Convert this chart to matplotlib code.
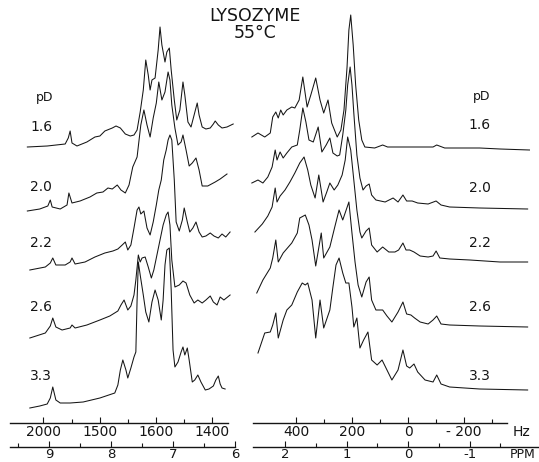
import matplotlib.pyplot as plt

W, H = 539, 462
MHZ = 220  # spectrometer frequency, Hz per ppm

pd_labels = ["1.6", "2.0", "2.2", "2.6", "3.3"]
# vertical stacking of the five spectra (intensity units)
stack_offset = [0, -59, -112, -177, -240]

# aromatic / NH region, (ppm, intensity)
aro_16 = [(9.35, 3), (9.03, 4), (8.74, 6), (8.69, 12), (8.66, 19), (8.63, 7), (8.55, 4), (8.39, 8),
          (8.26, 13), (8.18, 14), (8.10, 19), (7.98, 22), (7.92, 24), (7.85, 22), (7.77, 16),
          (7.69, 14), (7.63, 15), (7.58, 20), (7.53, 38), (7.48, 60), (7.44, 90), (7.40, 75),
          (7.37, 60), (7.34, 70), (7.29, 72), (7.24, 100), (7.21, 123), (7.18, 105), (7.13, 88),
          (7.10, 98), (7.06, 102), (7.03, 80), (6.98, 50), (6.94, 30), (6.89, 40), (6.84, 68),
          (6.81, 55), (6.76, 28), (6.71, 23), (6.66, 35), (6.61, 47), (6.58, 35), (6.53, 23),
          (6.47, 21), (6.40, 22), (6.35, 26), (6.32, 29), (6.27, 25), (6.21, 22), (6.13, 23),
          (6.03, 26)]
aro_20 = [(9.35, -2), (9.15, 0), (9.02, 3), (8.98, 9), (8.95, 2), (8.82, 0), (8.71, 4), (8.68, 16),
          (8.63, 6), (8.50, 8), (8.34, 12), (8.23, 16), (8.13, 17), (8.05, 21), (7.98, 20),
          (7.90, 24), (7.84, 19), (7.77, 16), (7.71, 24), (7.65, 42), (7.58, 52), (7.52, 84),
          (7.47, 99), (7.42, 84), (7.37, 72), (7.32, 91), (7.27, 106), (7.23, 127), (7.18, 109),
          (7.13, 117), (7.08, 137), (7.05, 129), (7.02, 104), (6.97, 81), (6.92, 64), (6.87, 67),
          (6.84, 74), (6.79, 59), (6.74, 43), (6.69, 46), (6.63, 51), (6.58, 39), (6.53, 23),
          (6.44, 23), (6.32, 27), (6.24, 30), (6.13, 35)]
aro_22 = [(9.31, -8), (9.06, -5), (8.98, -1), (8.94, 4), (8.89, -3), (8.74, -3), (8.66, 0), (8.63, 4),
          (8.58, -2), (8.42, 0), (8.26, 5), (8.10, 9), (7.97, 11), (7.89, 13), (7.82, 17),
          (7.77, 20), (7.73, 12), (7.68, 17), (7.63, 34), (7.58, 52), (7.55, 55), (7.52, 48),
          (7.47, 51), (7.42, 34), (7.37, 27), (7.32, 40), (7.27, 57), (7.23, 72), (7.19, 82),
          (7.15, 102), (7.11, 112), (7.08, 122), (7.05, 127), (7.02, 122), (6.98, 82), (6.95, 40),
          (6.90, 31), (6.85, 42), (6.82, 54), (6.77, 40), (6.73, 30), (6.68, 34), (6.63, 40),
          (6.58, 30), (6.53, 25), (6.47, 26), (6.40, 29), (6.34, 26), (6.27, 24), (6.21, 28),
          (6.15, 25), (6.08, 30)]
aro_26 = [(9.31, -11), (9.06, -6), (8.98, 1), (8.94, 9), (8.89, 0), (8.79, -3), (8.66, -1), (8.63, 2),
          (8.58, -1), (8.39, 2), (8.18, 7), (8.02, 11), (7.89, 16), (7.84, 22), (7.79, 27),
          (7.73, 17), (7.68, 21), (7.63, 32), (7.60, 47), (7.56, 72), (7.53, 65), (7.50, 69),
          (7.45, 70), (7.40, 60), (7.35, 49), (7.31, 57), (7.26, 72), (7.21, 87), (7.16, 102),
          (7.11, 112), (7.08, 115), (7.05, 102), (7.02, 67), (6.97, 40), (6.90, 42), (6.84, 46),
          (6.79, 44), (6.73, 32), (6.66, 24), (6.60, 27), (6.53, 24), (6.47, 27), (6.40, 31),
          (6.35, 25), (6.29, 22), (6.24, 30), (6.18, 27), (6.08, 32)]
aro_33 = [(9.31, -18), (9.15, -16), (9.03, -14), (8.98, -8), (8.94, 3), (8.89, -10), (8.82, -13),
          (8.66, -13), (8.45, -12), (8.18, -8), (7.94, -3), (7.89, 5), (7.85, 20), (7.81, 30),
          (7.76, 20), (7.73, 12), (7.68, 22), (7.63, 33), (7.60, 38), (7.58, 90), (7.56, 128),
          (7.53, 115), (7.48, 95), (7.44, 78), (7.39, 68), (7.34, 88), (7.29, 100), (7.24, 90),
          (7.19, 70), (7.16, 90), (7.13, 125), (7.10, 140), (7.06, 142), (7.03, 100), (7.00, 40),
          (6.97, 23), (6.92, 28), (6.87, 38), (6.84, 43), (6.81, 35), (6.77, 42), (6.74, 30),
          (6.69, 8), (6.65, 10), (6.60, 15), (6.55, 8), (6.48, 0), (6.42, 1), (6.35, 4), (6.31, 10),
          (6.27, 14), (6.24, 6), (6.21, 2), (6.16, 1)]

# aliphatic region, (ppm, intensity)
ali_16 = [(2.54, 13), (2.44, 17), (2.33, 13), (2.24, 17), (2.20, 33), (2.15, 38), (2.11, 32),
          (2.07, 40), (2.03, 35), (1.97, 40), (1.89, 43), (1.84, 42), (1.77, 50), (1.71, 73),
          (1.64, 43), (1.58, 55), (1.50, 72), (1.43, 50), (1.37, 37), (1.30, 50), (1.24, 27),
          (1.15, 13), (1.09, 20), (1.04, 40), (0.99, 83), (0.96, 120), (0.93, 135), (0.89, 105),
          (0.85, 65), (0.80, 30), (0.75, 10), (0.70, 3), (0.54, 2), (0.41, 5), (0.33, 3),
          (0.21, 3), (-0.20, 3), (-0.41, 3), (-0.47, 5), (-0.60, 2), (-1.17, 2), (-1.50, 1),
          (-1.98, 0)]
ali_20 = [(2.54, 26), (2.44, 29), (2.36, 26), (2.28, 32), (2.21, 42), (2.16, 59), (2.13, 49),
          (2.08, 57), (2.03, 51), (1.97, 56), (1.89, 62), (1.80, 64), (1.76, 79), (1.71, 101),
          (1.66, 87), (1.61, 69), (1.54, 67), (1.46, 82), (1.40, 57), (1.33, 64), (1.27, 71),
          (1.22, 56), (1.15, 53), (1.11, 54), (1.06, 74), (1.01, 99), (0.98, 124), (0.94, 142),
          (0.91, 124), (0.88, 96), (0.83, 54), (0.78, 31), (0.73, 19), (0.68, 23), (0.63, 25),
          (0.59, 14), (0.52, 9), (0.37, 7), (0.24, 11), (0.16, 7), (0.08, 14), (0.02, 8),
          (-0.07, 8), (-0.16, 6), (-0.33, 5), (-0.46, 8), (-0.54, 4), (-0.68, 2), (-1.17, 1),
          (-1.95, 0)]
ali_22 = [(2.49, 30), (2.37, 38), (2.28, 46), (2.21, 55), (2.16, 74), (2.13, 60), (2.08, 66),
          (2.00, 72), (1.92, 80), (1.84, 89), (1.76, 99), (1.69, 105), (1.63, 92), (1.58, 77),
          (1.51, 64), (1.45, 87), (1.38, 60), (1.32, 70), (1.27, 79), (1.20, 72), (1.14, 77),
          (1.07, 87), (1.02, 102), (0.98, 125), (0.93, 112), (0.88, 82), (0.83, 52), (0.78, 30),
          (0.75, 24), (0.68, 31), (0.63, 34), (0.59, 17), (0.50, 10), (0.41, 15), (0.31, 10),
          (0.21, 10), (0.15, 12), (0.08, 19), (0.03, 12), (-0.03, 12), (-0.10, 10), (-0.20, 6),
          (-0.33, 5), (-0.41, 6), (-0.46, 11), (-0.52, 4), (-0.68, 3), (-1.01, 2), (-1.50, 0),
          (-1.95, 0)]
ali_26 = [(2.46, 34), (2.36, 47), (2.24, 59), (2.20, 69), (2.15, 87), (2.11, 65), (2.03, 74),
          (1.89, 84), (1.80, 94), (1.76, 109), (1.67, 112), (1.61, 102), (1.56, 87), (1.50, 61),
          (1.41, 94), (1.37, 69), (1.27, 80), (1.19, 100), (1.12, 117), (1.06, 107), (0.96, 125),
          (0.91, 94), (0.86, 65), (0.81, 42), (0.75, 30), (0.68, 45), (0.63, 50), (0.59, 27),
          (0.52, 17), (0.41, 17), (0.34, 11), (0.26, 5), (0.16, 15), (0.08, 25), (0.02, 13),
          (-0.05, 12), (-0.11, 9), (-0.20, 5), (-0.33, 3), (-0.41, 7), (-0.47, 11), (-0.54, 3),
          (-0.68, 2), (-1.17, 1), (-1.95, 0)]
ali_33 = [(2.44, 37), (2.33, 57), (2.24, 58), (2.20, 65), (2.15, 77), (2.11, 52), (2.03, 70),
          (1.97, 80), (1.89, 85), (1.80, 98), (1.72, 107), (1.67, 105), (1.63, 107), (1.56, 90),
          (1.50, 52), (1.43, 90), (1.37, 62), (1.27, 80), (1.22, 103), (1.17, 125), (1.12, 132),
          (1.06, 117), (1.01, 107), (0.96, 107), (0.91, 83), (0.88, 63), (0.83, 72), (0.78, 42),
          (0.72, 50), (0.65, 58), (0.59, 30), (0.50, 25), (0.42, 30), (0.34, 20), (0.26, 10),
          (0.16, 20), (0.08, 40), (0.02, 24), (-0.03, 22), (-0.10, 26), (-0.16, 18), (-0.28, 10),
          (-0.41, 8), (-0.47, 15), (-0.54, 6), (-0.68, 3), (-1.17, 1), (-1.95, 0)]

aromatic = [aro_16, aro_20, aro_22, aro_26, aro_33]
aliphatic = [ali_16, ali_20, ali_22, ali_26, ali_33]

# scale ticks
left_hz_major = [2000, 1800, 1600, 1400]
left_hz_labels = ["2000", "1500", "1600", "1400"]
left_hz_minor = [1900, 1700, 1500]
left_ppm_major = [9, 8, 7, 6]
left_ppm_minor = [9.5, 8.5, 7.5, 6.5]
right_hz_major = [400, 200, 0, -200]
right_hz_labels = ["400", "200", "0", "- 200"]
right_hz_minor = [300, 100, -100, -300]
right_ppm_major = [2, 1, 0, -1]
right_ppm_labels = ["2", "1", "0", "-1"]
right_ppm_minor = [1.5, 0.5, -0.5, -1.5]


def fx(px):
    return px / W


def fy(py):
    return 1 - py / H


def px_axes(fig, x0, y0, x1, y1):
    return fig.add_axes([fx(x0), fy(y1), (x1 - x0) / W, (y1 - y0) / H])


fig = plt.figure(figsize=(W / 100, H / 100), dpi=100)
fig.patch.set_facecolor("white")

ink = "#151515"

# two spectral panels sharing the same ppm-per-pixel scale
ax_l = px_axes(fig, 10, 0, 240, 415)
ax_l.set_xlim(9.63, 5.92)
ax_r = px_axes(fig, 250, 0, 535, 415)
ax_r.set_xlim(2.57, -2.07)
for ax, traces in ((ax_l, aromatic), (ax_r, aliphatic)):
    ax.set_ylim(-265, 150)
    ax.axis("off")
    for trace, off in zip(traces, stack_offset):
        xs = [p[0] for p in trace]
        ys = [p[1] + off for p in trace]
        ax.plot(xs, ys, color=ink, lw=0.75, solid_joinstyle="round")


def scale_axis(x0, x1, y, xlim, bounds, major, labels, minor, size=10, pad=1.5):
    sa = px_axes(fig, x0, y - 1, x1, y)
    sa.set_xlim(*xlim)
    sa.set_ylim(0, 1)
    sa.patch.set_visible(False)
    for side in ("top", "left", "right"):
        sa.spines[side].set_visible(False)
    sa.spines["bottom"].set_bounds(*bounds)
    sa.spines["bottom"].set_linewidth(1.0)
    sa.spines["bottom"].set_color(ink)
    sa.set_yticks([])
    sa.set_xticks(major)
    sa.set_xticklabels(labels)
    sa.set_xticks(minor, minor=True)
    sa.tick_params(axis="x", which="major", direction="in", length=4, width=0.8,
                   pad=pad, labelsize=size, colors=ink)
    sa.tick_params(axis="x", which="minor", direction="in", length=3, width=0.8, colors=ink)
    return sa


# Hz and PPM scales under each panel
scale_axis(10, 240, 423, (9.63, 5.92), (9.63, 6.11),
           [h / MHZ for h in left_hz_major], left_hz_labels, [h / MHZ for h in left_hz_minor])
scale_axis(10, 240, 447, (9.63, 5.92), (9.63, 6.0),
           left_ppm_major, [str(v) for v in left_ppm_major], left_ppm_minor, size=9.5, pad=0.5)
scale_axis(250, 539, 423, (2.57, -2.13), (2.52, -1.61),
           [h / MHZ for h in right_hz_major], right_hz_labels, [h / MHZ for h in right_hz_minor])
scale_axis(250, 539, 447, (2.57, -2.13), (2.52, -2.11),
           right_ppm_major, right_ppm_labels, right_ppm_minor, size=9.5, pad=0.5)

fig.text(fx(522), fy(432), "Hz", ha="center", va="center", fontsize=10, color=ink)
fig.text(fx(523), fy(455), "PPM", ha="center", va="center", fontsize=9, color=ink)

# title
fig.text(fx(255), fy(16), "LYSOZYME", ha="center", va="center", fontsize=12.5, color=ink)
fig.text(fx(255), fy(33), "55°C", ha="center", va="center", fontsize=12.5, color=ink)

# pD labels on both sides
left_label_y = [127, 187, 243, 307, 376]
right_label_y = [125, 188, 243, 307, 376]
fig.text(fx(45), fy(98), "pD", ha="center", va="center", fontsize=9, color=ink)
fig.text(fx(482), fy(96), "pD", ha="center", va="center", fontsize=9, color=ink)
for lab, yl, yr in zip(pd_labels, left_label_y, right_label_y):
    fig.text(fx(41), fy(yl), lab, ha="center", va="center", fontsize=10, color=ink)
    fig.text(fx(480), fy(yr), lab, ha="center", va="center", fontsize=10, color=ink)

fig.savefig("out.png", dpi=100)
